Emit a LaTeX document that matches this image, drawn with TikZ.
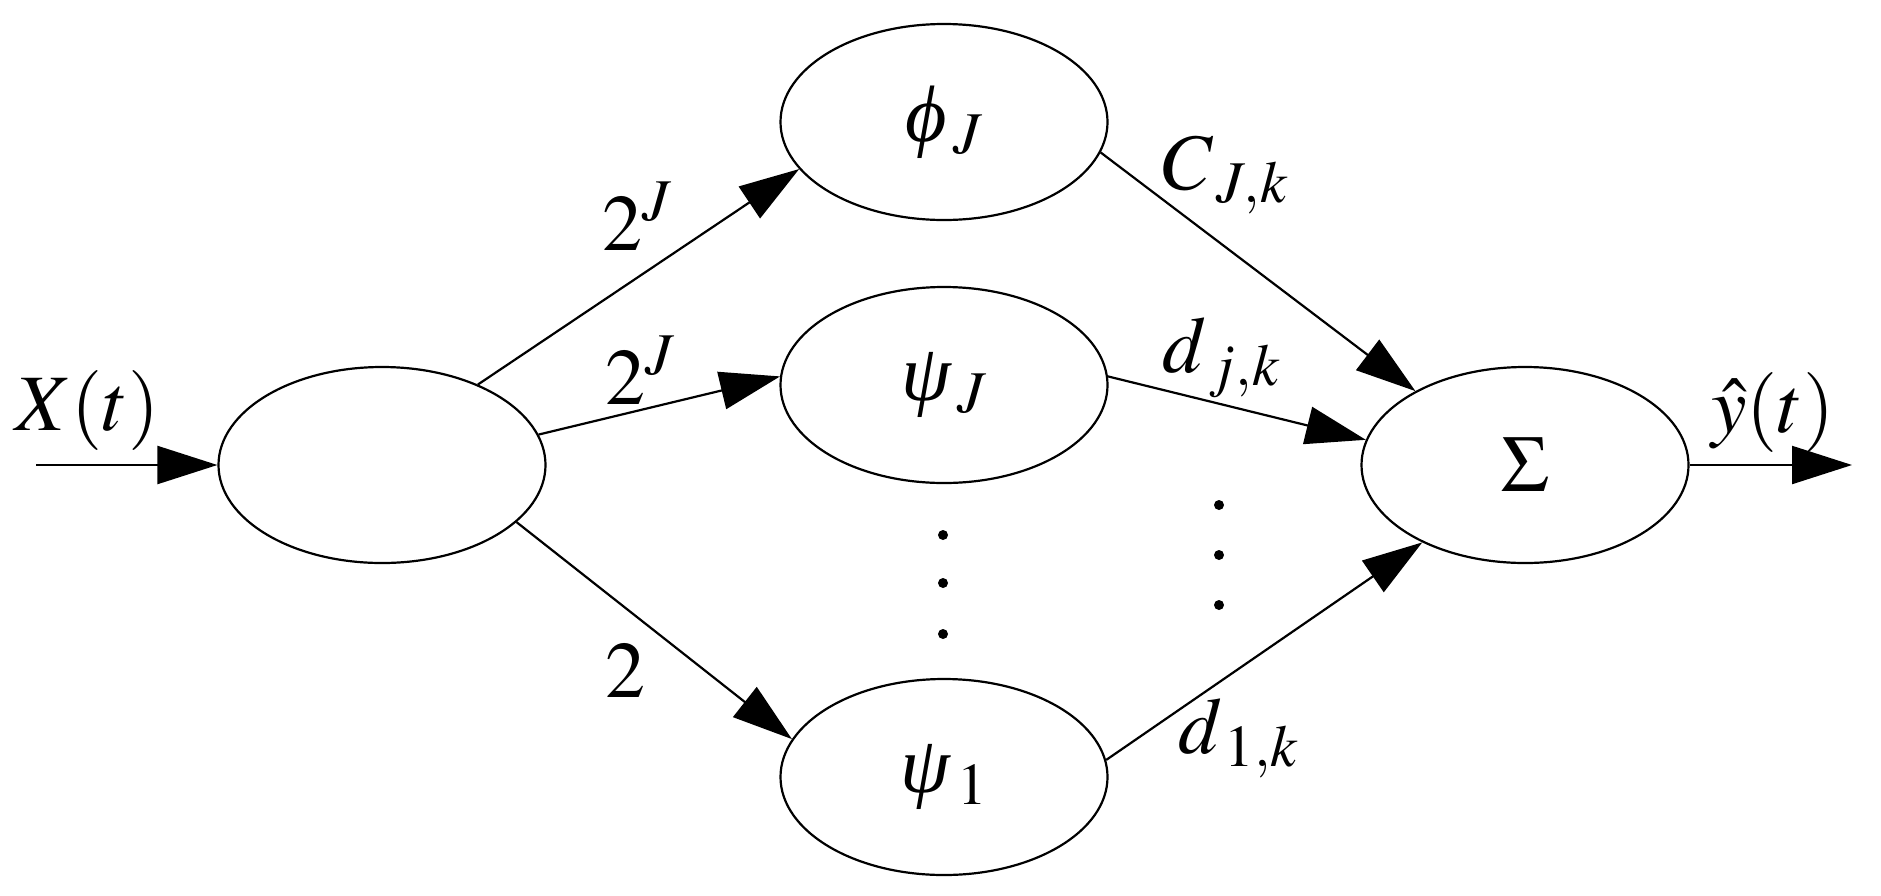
\documentclass[tikz,border=0pt]{standalone}
\usepackage{mathptmx}
\usepackage[no-math]{fontspec}
\newfontfamily\grk{Liberation Serif}
\usetikzlibrary{shapes.geometric,arrows.meta}
\newcommand\dgfont{\fontsize{80}{96}\selectfont}
\begin{document}
\begin{tikzpicture}[x=1pt,y=-1pt,
  blob/.style={ellipse,draw,line width=2.2pt,minimum width=327pt,minimum height=196pt,inner sep=0pt,font=\dgfont},
  conn/.style={line width=2.2pt,-{Triangle[length=60pt,width=38pt]}},
  lab/.style={anchor=base west,inner sep=0pt,font=\dgfont},
  dot/.style={fill=black}]
\useasboundingbox (0,0) rectangle (1881,895);

\node[blob] (L) at (382,465) {};
\node[blob] (phiJ) at (944,122) {{\grk\itshape ϕ}$_{\,J}$};
\node[blob] (psiJ) at (944,385) {{\grk\itshape ψ}$_{\,J}$};
\node[blob] (psi1) at (944,777) {{\grk\itshape ψ}$_{\,1}$};
\node[blob] (sig) at (1525,465) {$\Sigma$};

\coordinate (in) at (36,465);
\coordinate (out) at (1852,465);

\draw[conn] (in) -- (L.west);
\draw[conn] (sig.east) -- (out);
\draw[conn] (L.40) -- (phiJ.198.7);
\draw[conn] (L.11.2) -- (psiJ.177.6);
\draw[conn] (L.-23) -- (psi1.166.8);
\draw[conn] (phiJ.-11.6) -- (sig.146.4);
\draw[conn] (psiJ.3.2) -- (sig.171);
\draw[conn] (psi1.6) -- (sig.217.3);

\node[lab] (lx) at (15,430) {$X(t)$};
\node[lab] (ly) at (1711,432) {$\hat{y}(t)$};
\node[lab] (l1) at (602,250) {$2^J$};
\node[lab] (l2) at (605,404) {$2^J$};
\node[lab] (l3) at (605,697) {$2$};
\node[lab] (l4) at (1162,189) {$C_{\,J,k}$};
\node[lab] (l5) at (1162,372) {$d_{\,j,k}$};
\node[lab] (l6) at (1178,753) {$d_{\,1,k}$};

\foreach \yy in {535,583,634} \fill[dot] (943,\yy) circle (5pt);
\foreach \yy in {505,555,605} \fill[dot] (1219,\yy) circle (5pt);
\end{tikzpicture}
\end{document}
